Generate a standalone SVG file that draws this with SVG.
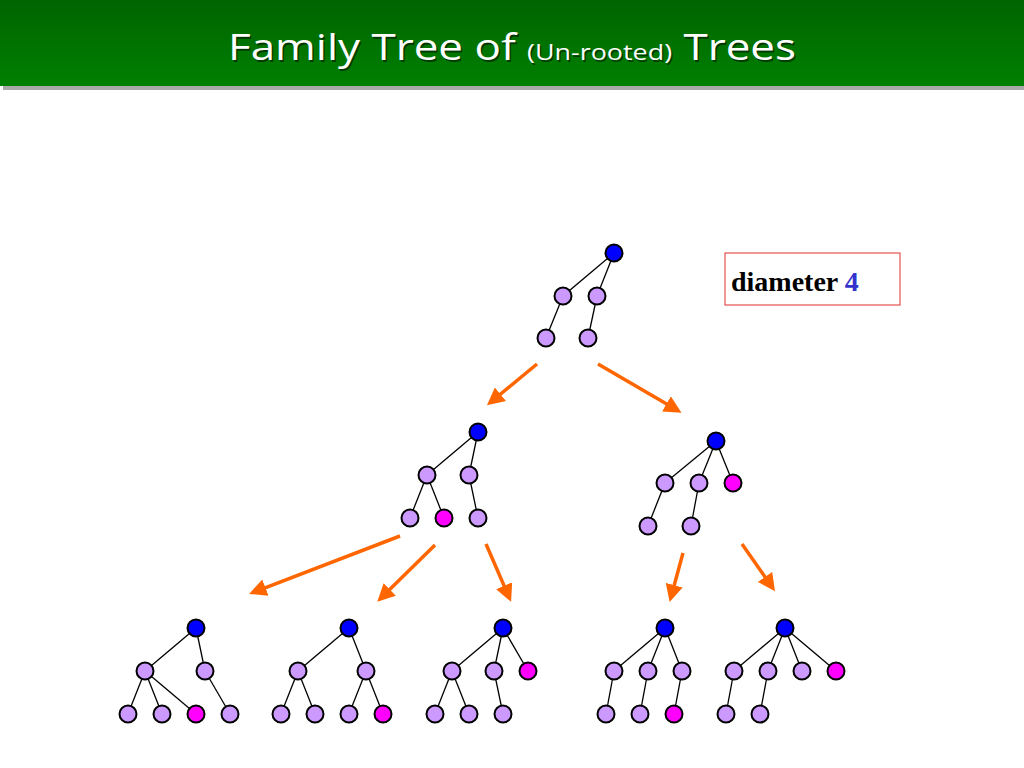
<svg xmlns="http://www.w3.org/2000/svg" width="1024" height="768" viewBox="0 0 1024 768">
<defs>
<linearGradient id="hg" x1="0" y1="0" x2="0" y2="1"><stop offset="0" stop-color="#006400"/><stop offset="1" stop-color="#008000"/></linearGradient>
<marker id="ah" markerWidth="5" markerHeight="5" refX="3.5" refY="2.5" orient="auto" markerUnits="strokeWidth"><path d="M0,0 L5,2.5 L0,5 Z" fill="#FF6600"/></marker>
<style>
.e{stroke:#000;stroke-width:1.3}
.n{stroke:#000;stroke-width:2;fill:#CC99FF}
.r{fill:#0000FF}
.m{fill:#FF00FF}
.a{stroke:#FF6600;stroke-width:3.5;fill:none;marker-end:url(#ah)}
.t{font-family:"Open Sans","DejaVu Sans",sans-serif;fill:#fff}
</style>
</defs>
<rect width="1024" height="768" fill="#fff"/>
<rect x="3" y="86" width="1021" height="4" fill="#aaa"/>
<rect width="1024" height="86" fill="url(#hg)"/>
<g transform="translate(1.5,1.5)" fill="#000" opacity="0.5"><text x="228" y="60" font-size="36" font-family="Open Sans, sans-serif" textLength="568" lengthAdjust="spacingAndGlyphs">Family Tree of <tspan font-size="22">(Un-rooted)</tspan> Trees</text></g>
<text class="t" x="228" y="60" font-size="36" textLength="568" lengthAdjust="spacingAndGlyphs">Family Tree of <tspan font-size="22">(Un-rooted)</tspan> Trees</text>
<g id="label"><rect x="725" y="253" width="175" height="52" fill="#fff" stroke="#E03030" stroke-width="1"/>
<text x="731" y="291" font-family="Liberation Serif, serif" font-weight="bold" font-size="28">diameter <tspan fill="#3333CC">4</tspan></text></g>
<g id="connectors">
<path class="a" d="M537,364 L491,402"/>
<path class="a" d="M598,364 L677,410"/>
<path class="a" d="M400,536 L254,592"/>
<path class="a" d="M435,545 L381,598"/>
<path class="a" d="M486,544 L509,597"/>
<path class="a" d="M683,553 L671,597"/>
<path class="a" d="M742,544 L772,587"/>
</g>
<g id="tree0" class="e">
<line x1="614" y1="253" x2="563" y2="296"/><line x1="614" y1="253" x2="597" y2="296"/><line x1="563" y1="296" x2="546" y2="338"/><line x1="597" y1="296" x2="588" y2="338"/>
<circle class="n r" cx="614" cy="253" r="8.5"/><circle class="n" cx="563" cy="296" r="8.5"/><circle class="n" cx="597" cy="296" r="8.5"/><circle class="n" cx="546" cy="338" r="8.5"/><circle class="n" cx="588" cy="338" r="8.5"/>
</g>
<g id="tree1" class="e">
<line x1="478" y1="432" x2="427" y2="475"/><line x1="478" y1="432" x2="469" y2="475"/><line x1="427" y1="475" x2="410" y2="518"/><line x1="427" y1="475" x2="444" y2="518"/><line x1="469" y1="475" x2="478" y2="518"/>
<circle class="n r" cx="478" cy="432" r="8.5"/><circle class="n" cx="427" cy="475" r="8.5"/><circle class="n" cx="469" cy="475" r="8.5"/><circle class="n" cx="410" cy="518" r="8.5"/><circle class="n m" cx="444" cy="518" r="8.5"/><circle class="n" cx="478" cy="518" r="8.5"/>
</g>
<g id="tree2" class="e">
<line x1="716" y1="441" x2="665" y2="483"/><line x1="716" y1="441" x2="699" y2="483"/><line x1="716" y1="441" x2="733" y2="483"/><line x1="665" y1="483" x2="648" y2="526"/><line x1="699" y1="483" x2="691" y2="526"/>
<circle class="n r" cx="716" cy="441" r="8.5"/><circle class="n" cx="665" cy="483" r="8.5"/><circle class="n" cx="699" cy="483" r="8.5"/><circle class="n m" cx="733" cy="483" r="8.5"/><circle class="n" cx="648" cy="526" r="8.5"/><circle class="n" cx="691" cy="526" r="8.5"/>
</g>
<g id="tree3" class="e">
<line x1="196" y1="628" x2="145" y2="671"/><line x1="196" y1="628" x2="205" y2="671"/><line x1="145" y1="671" x2="128" y2="714"/><line x1="145" y1="671" x2="162" y2="714"/><line x1="145" y1="671" x2="196" y2="714"/><line x1="205" y1="671" x2="230" y2="714"/>
<circle class="n r" cx="196" cy="628" r="8.5"/><circle class="n" cx="145" cy="671" r="8.5"/><circle class="n" cx="205" cy="671" r="8.5"/><circle class="n" cx="128" cy="714" r="8.5"/><circle class="n" cx="162" cy="714" r="8.5"/><circle class="n m" cx="196" cy="714" r="8.5"/><circle class="n" cx="230" cy="714" r="8.5"/>
</g>
<g id="tree4" class="e">
<line x1="349" y1="628" x2="298" y2="671"/><line x1="349" y1="628" x2="366" y2="671"/><line x1="298" y1="671" x2="281" y2="714"/><line x1="298" y1="671" x2="315" y2="714"/><line x1="366" y1="671" x2="349" y2="714"/><line x1="366" y1="671" x2="383" y2="714"/>
<circle class="n r" cx="349" cy="628" r="8.5"/><circle class="n" cx="298" cy="671" r="8.5"/><circle class="n" cx="366" cy="671" r="8.5"/><circle class="n" cx="281" cy="714" r="8.5"/><circle class="n" cx="315" cy="714" r="8.5"/><circle class="n" cx="349" cy="714" r="8.5"/><circle class="n m" cx="383" cy="714" r="8.5"/>
</g>
<g id="tree5" class="e">
<line x1="503" y1="628" x2="452" y2="671"/><line x1="503" y1="628" x2="494" y2="671"/><line x1="503" y1="628" x2="528" y2="671"/><line x1="452" y1="671" x2="435" y2="714"/><line x1="452" y1="671" x2="469" y2="714"/><line x1="494" y1="671" x2="503" y2="714"/>
<circle class="n r" cx="503" cy="628" r="8.5"/><circle class="n" cx="452" cy="671" r="8.5"/><circle class="n" cx="494" cy="671" r="8.5"/><circle class="n m" cx="528" cy="671" r="8.5"/><circle class="n" cx="435" cy="714" r="8.5"/><circle class="n" cx="469" cy="714" r="8.5"/><circle class="n" cx="503" cy="714" r="8.5"/>
</g>
<g id="tree6" class="e">
<line x1="665" y1="628" x2="614" y2="671"/><line x1="665" y1="628" x2="648" y2="671"/><line x1="665" y1="628" x2="682" y2="671"/><line x1="614" y1="671" x2="606" y2="714"/><line x1="648" y1="671" x2="640" y2="714"/><line x1="682" y1="671" x2="674" y2="714"/>
<circle class="n r" cx="665" cy="628" r="8.5"/><circle class="n" cx="614" cy="671" r="8.5"/><circle class="n" cx="648" cy="671" r="8.5"/><circle class="n" cx="682" cy="671" r="8.5"/><circle class="n" cx="606" cy="714" r="8.5"/><circle class="n" cx="640" cy="714" r="8.5"/><circle class="n m" cx="674" cy="714" r="8.5"/>
</g>
<g id="tree7" class="e">
<line x1="785" y1="628" x2="734" y2="671"/><line x1="785" y1="628" x2="768" y2="671"/><line x1="785" y1="628" x2="802" y2="671"/><line x1="785" y1="628" x2="836" y2="671"/><line x1="734" y1="671" x2="726" y2="714"/><line x1="768" y1="671" x2="760" y2="714"/>
<circle class="n r" cx="785" cy="628" r="8.5"/><circle class="n" cx="734" cy="671" r="8.5"/><circle class="n" cx="768" cy="671" r="8.5"/><circle class="n" cx="802" cy="671" r="8.5"/><circle class="n m" cx="836" cy="671" r="8.5"/><circle class="n" cx="726" cy="714" r="8.5"/><circle class="n" cx="760" cy="714" r="8.5"/>
</g>
</svg>
